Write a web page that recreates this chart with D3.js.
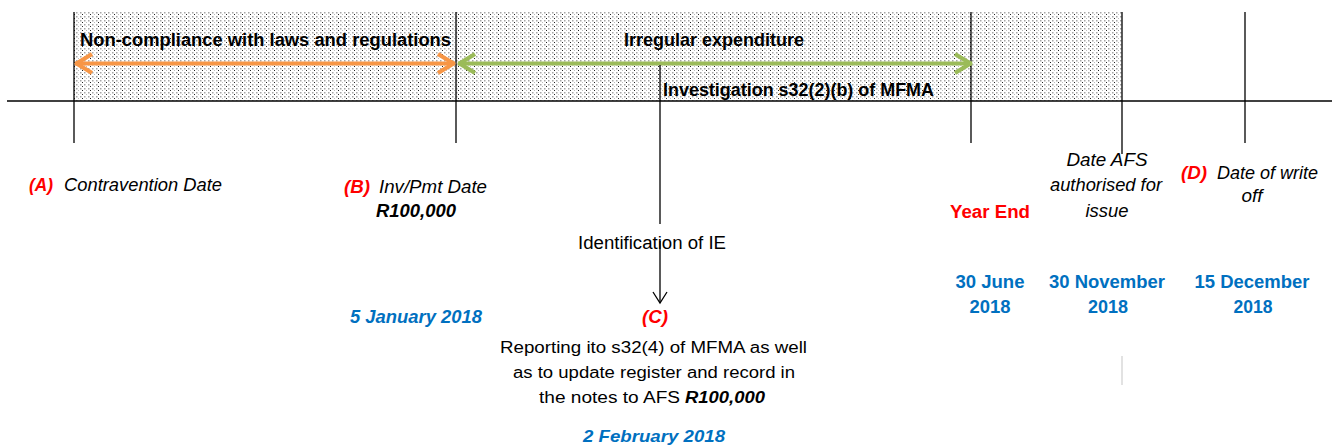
<!DOCTYPE html>
<html>
<head>
<meta charset="utf-8">
<script src="https://cdn.jsdelivr.net/npm/d3@7"></script>
<style>
  html, body { margin: 0; padding: 0; background: #fff; }
  svg { display: block; font-family: "Liberation Sans", Arial, sans-serif; }
</style>
</head>
<body>
<svg id="chart"></svg>
<script>
// Timeline events (keys) and their texts
const eventKeys = ['A', 'B', 'C', 'YE', 'AFS', 'D'];
const eventTags = ['(A)', '(B)', '(C)', 'Year End', '', '(D)'];
const eventNames = ['Contravention Date', 'Inv/Pmt Date', 'Identification of IE', '', 'Date AFS authorised for issue', 'Date of write off'];
const eventDates = ['', '5 January 2018', '2 February 2018', '30 June 2018', '30 November 2018', '15 December 2018'];
const amounts = ['R100,000', 'R100,000'];

// Periods shown as double arrows across the band
const periodLabels = ['Non-compliance with laws and regulations', 'Irregular expenditure'];
const periodFrom = ['A', 'B'];
const periodTo = ['B', 'YE'];

const investigationLabel = 'Investigation s32(2)(b) of MFMA';
const reportingLines = ['Reporting ito s32(4) of MFMA as well', 'as to update register and record in', 'the notes to AFS'];

const width = 1335, height = 448;
const RED = '#ff0000', BLUE = '#0070c0';
const periodColors = ['#f79646', '#9bbb59'];

const svg = d3.select('#chart').attr('width', width).attr('height', height);

// event position along the timeline (not time-proportional)
const x = d3.scaleOrdinal().domain(eventKeys).range([74, 456, 660, 971, 1122, 1245]);

const bandTop = 12, axisY = 101;

// dotted fill pattern
const defs = svg.append('defs');
const pat = defs.append('pattern')
  .attr('id', 'dots')
  .attr('patternUnits', 'userSpaceOnUse')
  .attr('width', 8).attr('height', 4);
pat.append('rect').attr('width', 8).attr('height', 4).attr('fill', '#fff');
pat.append('rect').attr('x', 0).attr('y', 0).attr('width', 1.5).attr('height', 1.5).attr('fill', '#a6a6a6');
pat.append('rect').attr('x', 4).attr('y', 0).attr('width', 1.5).attr('height', 1.5).attr('fill', '#a6a6a6');
pat.append('rect').attr('x', 2).attr('y', 2).attr('width', 1).attr('height', 1).attr('fill', '#222');
pat.append('rect').attr('x', 6).attr('y', 2).attr('width', 1).attr('height', 1).attr('fill', '#bbb');

// arrow heads
periodColors.forEach((c, i) => {
  defs.append('marker')
    .attr('id', 'head' + i)
    .attr('markerUnits', 'userSpaceOnUse')
    .attr('viewBox', '-22 -12 24 24')
    .attr('markerWidth', 24).attr('markerHeight', 24)
    .attr('refX', 0).attr('refY', 0)
    .attr('orient', 'auto-start-reverse')
    .append('path')
    .attr('d', 'M-17,-9.5L-1.5,0L-17,9.5')
    .attr('fill', 'none')
    .attr('stroke', c)
    .attr('stroke-width', 4.2)
    .attr('stroke-linejoin', 'round')
    .attr('stroke-linecap', 'butt');
});
defs.append('marker')
  .attr('id', 'headBlack')
  .attr('markerUnits', 'userSpaceOnUse')
  .attr('viewBox', '-14 -9 16 18')
  .attr('markerWidth', 16).attr('markerHeight', 18)
  .attr('refX', 0).attr('refY', 0)
  .attr('orient', 'auto')
  .append('path')
  .attr('d', 'M-11,-7L0,0L-11,7')
  .attr('fill', 'none')
  .attr('stroke', '#000')
  .attr('stroke-width', 1.3);

// shaded band from contravention to AFS date
svg.append('rect')
  .attr('x', x('A')).attr('y', bandTop)
  .attr('width', x('AFS') - x('A')).attr('height', axisY - bandTop)
  .attr('fill', 'url(#dots)');

// vertical event markers
svg.selectAll('line.tick')
  .data(eventKeys.filter(k => k !== 'C'))
  .enter().append('line')
  .attr('class', 'tick')
  .attr('x1', d => x(d)).attr('x2', d => x(d))
  .attr('y1', bandTop)
  .attr('y2', d => d === 'AFS' ? 154 : 143)
  .attr('stroke', '#000').attr('stroke-width', 1.3);

// main axis
svg.append('line')
  .attr('x1', 7).attr('x2', 1332)
  .attr('y1', axisY).attr('y2', axisY)
  .attr('stroke', '#000').attr('stroke-width', 1.5);

// period arrows
svg.selectAll('line.period')
  .data(periodLabels)
  .enter().append('line')
  .attr('class', 'period')
  .attr('x1', (d, i) => x(periodFrom[i]) + (i ? 2 : 1))
  .attr('x2', (d, i) => x(periodTo[i]) + (i ? 1 : -1))
  .attr('y1', 63.5).attr('y2', 63.5)
  .attr('stroke', (d, i) => periodColors[i])
  .attr('stroke-width', 4.2)
  .attr('marker-start', (d, i) => `url(#head${i})`)
  .attr('marker-end', (d, i) => `url(#head${i})`);

// identification arrow
svg.append('line')
  .attr('x1', x('C')).attr('x2', x('C'))
  .attr('y1', 65).attr('y2', 224)
  .attr('stroke', '#000').attr('stroke-width', 1.3);
svg.append('line')
  .attr('x1', x('C')).attr('x2', x('C'))
  .attr('y1', 241).attr('y2', 303)
  .attr('stroke', '#000').attr('stroke-width', 1.3)
  .attr('marker-end', 'url(#headBlack)');

svg.append('line')
  .attr('x1', x('AFS')).attr('x2', x('AFS'))
  .attr('y1', 356).attr('y2', 385)
  .attr('stroke', '#d9d9d9').attr('stroke-width', 1.5);

// text helper
function label(s, px, py, o) {
  const t = svg.append('text')
    .attr('x', px).attr('y', py)
    .attr('text-anchor', o.anchor || 'start')
    .style('font-size', (o.size || 18) + 'px')
    .style('font-weight', o.weight || 'normal')
    .style('font-style', o.style || 'normal')
    .style('fill', o.fill || '#000')
    .text(s);
  if (o.w) t.attr('textLength', o.w).attr('lengthAdjust', 'spacingAndGlyphs');
  return t;
}

// period titles
label(periodLabels[0], 80, 46, { weight: 'bold', w: 371 });
label(periodLabels[1], 624, 46, { weight: 'bold', w: 180 });
label(investigationLabel, 663, 96, { weight: 'bold', w: 271 });

// (A)
label(eventTags[0], 29, 191, { weight: 'bold', style: 'italic', fill: RED, w: 24 });
label(eventNames[0], 64, 191, { style: 'italic', w: 158 });

// (B)
label(eventTags[1], 344, 193, { weight: 'bold', style: 'italic', fill: RED, w: 26 });
label(eventNames[1], 379, 193, { style: 'italic', w: 108 });
label(amounts[0], 376, 217, { weight: 'bold', style: 'italic', w: 80 });
label(eventDates[1], 350, 323, { weight: 'bold', style: 'italic', fill: BLUE, w: 132 });

// (C)
label(eventNames[2], 578, 249, { w: 148 });
label(eventTags[2], 642, 323, { weight: 'bold', style: 'italic', fill: RED, w: 26 });
label(reportingLines[0], 500, 353, { size: 16, w: 307 });
label(reportingLines[1], 513, 378, { size: 16, w: 282 });
label(reportingLines[2], 539, 403, { size: 16, w: 141 });
label(amounts[1], 685, 403, { size: 16, weight: 'bold', style: 'italic', w: 80 });
label(eventDates[2], 583, 442, { size: 17, weight: 'bold', style: 'italic', fill: BLUE, w: 142 });

// Year end
label(eventTags[3], 950, 218, { weight: 'bold', fill: RED, w: 80 });
const [yeD, yeY] = [eventDates[3].slice(0, -5), eventDates[3].slice(-4)];
label(yeD, 990, 288, { anchor: 'middle', weight: 'bold', fill: BLUE, w: 69 });
label(yeY, 990, 313, { anchor: 'middle', weight: 'bold', fill: BLUE, w: 41 });

// AFS authorised
label('Date AFS', 1107, 166, { anchor: 'middle', style: 'italic', w: 81 });
label('authorised for', 1106, 191, { anchor: 'middle', style: 'italic', w: 112 });
label('issue', 1107, 217, { anchor: 'middle', style: 'italic', w: 43 });
label(eventDates[4].slice(0, -5), 1107, 288, { anchor: 'middle', weight: 'bold', fill: BLUE, w: 116 });
label(eventDates[4].slice(-4), 1108, 313, { anchor: 'middle', weight: 'bold', fill: BLUE, w: 40 });

// (D)
label(eventTags[5], 1181, 179, { weight: 'bold', style: 'italic', fill: RED, w: 26 });
label('Date of write', 1217, 179, { style: 'italic', w: 101 });
label('off', 1252, 202, { anchor: 'middle', style: 'italic', w: 21 });
label(eventDates[5].slice(0, -5), 1252, 288, { anchor: 'middle', weight: 'bold', fill: BLUE, w: 115 });
label(eventDates[5].slice(-4), 1253, 313, { anchor: 'middle', weight: 'bold', fill: BLUE, w: 39 });
</script>
</body>
</html>
